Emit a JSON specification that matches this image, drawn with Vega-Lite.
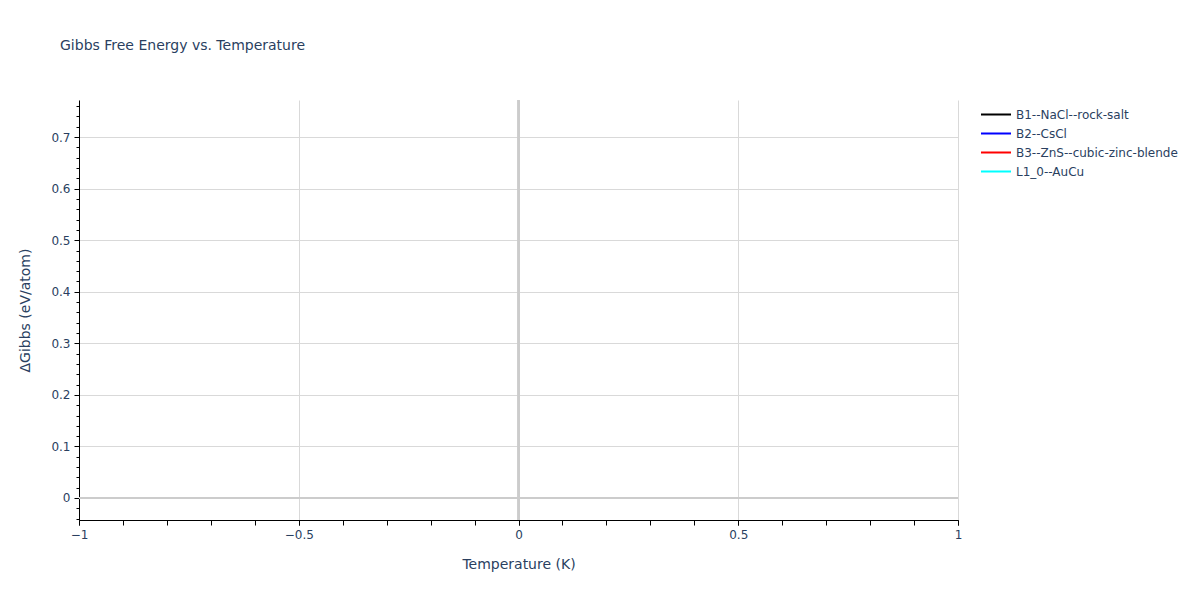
{
  "$schema": "https://vega.github.io/schema/vega-lite/v6.json",
  "autosize": {"type": "none"},
  "padding": {"left": 79, "top": 100, "right": 242, "bottom": 80},
  "width": 879,
  "height": 420,
  "background": "white",
  "title": {
    "text": "Gibbs Free Energy vs. Temperature",
    "anchor": "start",
    "frame": "group",
    "dx": -19,
    "offset": 46,
    "font": "DejaVu Sans",
    "fontSize": 14,
    "fontWeight": "normal",
    "color": "#2a3f5f"
  },
  "config": {
    "view": {"stroke": null},
    "axis": {
      "labelFont": "DejaVu Sans",
      "titleFont": "DejaVu Sans",
      "labelColor": "#2a3f5f",
      "titleColor": "#2a3f5f",
      "labelFontSize": 12,
      "titleFontSize": 14,
      "titleFontWeight": "normal",
      "domainColor": "#000000",
      "domainWidth": 1,
      "tickColor": "#000000",
      "gridColor": "#d9d9d9",
      "labelOverlap": false,
      "labelFlush": false
    },
    "legend": {
      "labelFont": "DejaVu Sans",
      "labelColor": "#2a3f5f",
      "labelFontSize": 12,
      "labelLimit": 400
    }
  },
  "data": {
    "values": [
      {"structure": "B1--NaCl--rock-salt", "temperature": 0, "dg": 0},
      {"structure": "B2--CsCl", "temperature": 0, "dg": 0},
      {"structure": "B3--ZnS--cubic-zinc-blende", "temperature": 0, "dg": 0},
      {"structure": "L1_0--AuCu", "temperature": 0, "dg": 0}
    ]
  },
  "resolve": {"axis": {"x": "independent", "y": "independent"}},
  "layer": [
    {
      "mark": {"type": "rule", "color": "#cccccc", "strokeWidth": 2},
      "encoding": {
        "x": {
          "field": "temperature",
          "type": "quantitative",
          "scale": {"domain": [-1, 1], "nice": false, "zero": false},
          "axis": {
            "orient": "bottom",
            "values": [-1, -0.9, -0.8, -0.7, -0.6, -0.5, -0.4, -0.3, -0.2, -0.1, 0, 0.1, 0.2, 0.3, 0.4, 0.5, 0.6, 0.7, 0.8, 0.9, 1],
            "labels": false,
            "grid": false,
            "domain": false,
            "title": null,
            "tickSize": 5
          }
        }
      }
    },
    {
      "mark": {"type": "rule", "color": "#cccccc", "strokeWidth": 2},
      "encoding": {
        "y": {
          "field": "dg",
          "type": "quantitative",
          "scale": {"domain": [-0.0427, 0.772], "nice": false, "zero": false},
          "axis": {
            "orient": "left",
            "values": [-0.04, -0.02, 0, 0.02, 0.04, 0.06, 0.08, 0.1, 0.12, 0.14, 0.16, 0.18, 0.2, 0.22, 0.24, 0.26, 0.28, 0.3, 0.32, 0.34, 0.36, 0.38, 0.4, 0.42, 0.44, 0.46, 0.48, 0.5, 0.52, 0.54, 0.56, 0.58, 0.6, 0.62, 0.64, 0.66, 0.68, 0.7, 0.72, 0.74, 0.76],
            "labels": false,
            "grid": false,
            "domain": false,
            "title": null,
            "tickSize": 3
          }
        }
      }
    },
    {
      "mark": {"type": "line", "strokeWidth": 2},
      "encoding": {
        "x": {
          "field": "temperature",
          "type": "quantitative",
          "title": "Temperature (K)",
          "axis": {
            "orient": "bottom",
            "values": [-1, -0.5, 0, 0.5, 1],
            "format": "~g",
            "grid": true,
            "tickSize": 5,
            "labelPadding": 4,
            "titlePadding": 17
          }
        },
        "y": {
          "field": "dg",
          "type": "quantitative",
          "title": "ΔGibbs (eV/atom)",
          "axis": {
            "orient": "left",
            "values": [0, 0.1, 0.2, 0.3, 0.4, 0.5, 0.6, 0.7],
            "format": "~g",
            "grid": true,
            "tickSize": 5,
            "labelPadding": 4,
            "titlePadding": 18
          }
        },
        "color": {
          "field": "structure",
          "type": "nominal",
          "title": null,
          "scale": {
            "domain": ["B1--NaCl--rock-salt", "B2--CsCl", "B3--ZnS--cubic-zinc-blende", "L1_0--AuCu"],
            "range": ["#000000", "#0000ff", "#ff0000", "#00ffff"]
          },
          "legend": {
            "orient": "none",
            "legendX": 901,
            "legendY": 5,
            "symbolType": "stroke",
            "symbolStrokeWidth": 2,
            "symbolSize": 900,
            "clipHeight": 19,
            "rowPadding": 0,
            "labelOffset": 4,
            "padding": 0
          }
        }
      }
    }
  ]
}
